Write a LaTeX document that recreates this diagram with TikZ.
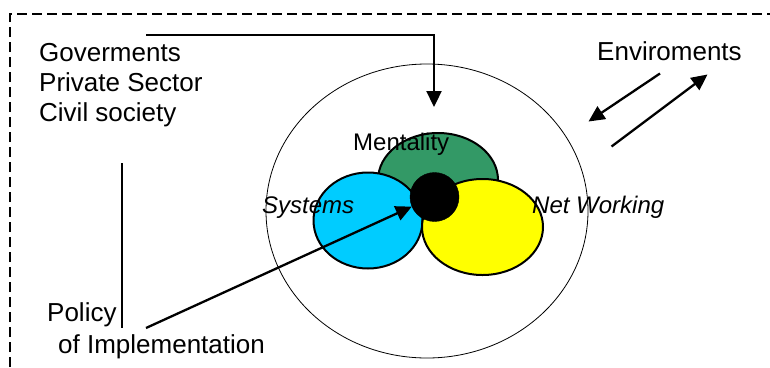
\documentclass[tikz,border=0pt]{standalone}
\usepackage{fontspec}
\setmainfont{Liberation Sans}
\usetikzlibrary{shapes.geometric,arrows.meta}
\definecolor{mgreen}{HTML}{339966}
\definecolor{mblue}{HTML}{00CCFF}
\definecolor{myellow}{HTML}{FFFF00}
\begin{document}
\begin{tikzpicture}[x=1pt,y=-1pt,
 lbl/.style={anchor=base west,inner sep=0pt,font=\fontsize{26}{30}\selectfont},
 ilbl/.style={anchor=base west,inner sep=0pt,font=\fontsize{24}{28}\selectfont\itshape},
 blob/.style={ellipse,draw=black,line width=2pt,inner sep=0pt},
 arr/.style={line width=2.3pt,-{Triangle[length=16pt,width=15pt]}},
]
\useasboundingbox (0,0) rectangle (770,367);
% dashed frame
\draw[line width=1.5pt,dash pattern=on 10pt off 5pt] (10,367) -- (10,14) -- (775,14);
% outer ellipse
\node[ellipse,draw=black,line width=0.8pt,inner sep=0pt,minimum width=322pt,minimum height=294pt] (outer) at (427,211) {};
% coloured blobs
\node[blob,fill=mgreen,minimum width=120pt,minimum height=94pt] (ment) at (438,180) {};
\node[blob,fill=mblue,minimum width=109pt,minimum height=96pt] (sys) at (368,220.5) {};
\node[blob,fill=myellow,minimum width=121pt,minimum height=96pt] (net) at (482.5,227) {};
\node[circle,draw=black,fill=black,inner sep=0pt,minimum size=49pt] (blk) at (434.5,197) {};
% texts
\node[lbl] (gov) at (39,61.5) {Goverments};
\node[lbl] (priv) at (39,91.5) {Private Sector};
\node[lbl] (civ) at (39,121.5) {Civil society};
\node[lbl] (env) at (597,60.5) {Enviroments};
\node[lbl] (pol) at (47,321.5) {Policy};
\node[lbl] (impl) at (58,353) {of Implementation};
\node[ilbl,font=\fontsize{24}{28}\selectfont] (mtxt) at (353,150) {Mentality};
\node[ilbl] (stxt) at (262,213) {Systems};
\node[ilbl] (ntxt) at (532,213) {Net Working};
% connectors
\coordinate (t0) at (146,35);
\coordinate (t1) at (434,35);
\coordinate (t2) at (434,107);
\draw[arr] (t0) -- (t1) -- (t2);
\coordinate (v0) at (122,163);
\coordinate (v1) at (122,328);
\draw[line width=1.5pt] (v0) -- (v1);
\coordinate (p0) at (146,328);
\draw[arr] (p0) -- (blk.203);
\coordinate (e0) at (660,73.5);
\coordinate (e1) at (588.5,121.5);
\draw[arr] (e0) -- (e1);
\coordinate (e2) at (611.5,146.5);
\coordinate (e3) at (707.5,74.5);
\draw[arr] (e2) -- (e3);
\end{tikzpicture}
\end{document}
